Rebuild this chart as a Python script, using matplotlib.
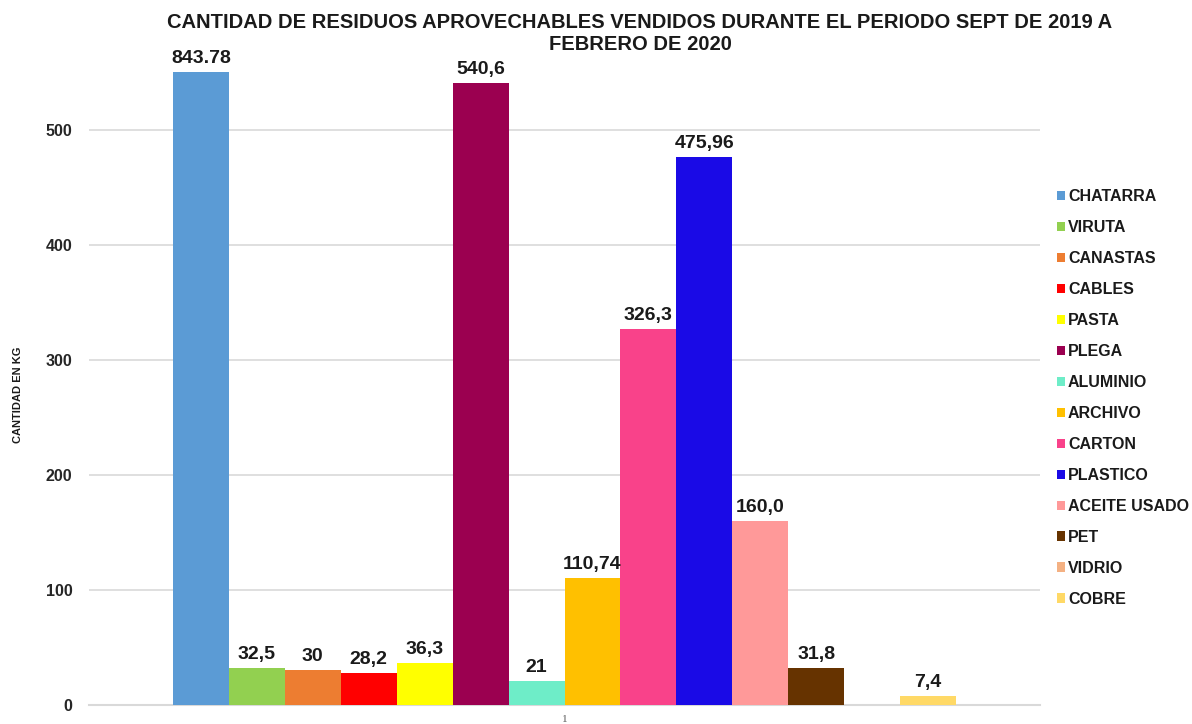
import matplotlib
matplotlib.use("Agg")
import matplotlib.pyplot as plt
from matplotlib.patches import Patch

# Residuos aprovechables vendidos (kg), sept 2019 - feb 2020
categorias = ["CHATARRA", "VIRUTA", "CANASTAS", "CABLES", "PASTA", "PLEGA",
              "ALUMINIO", "ARCHIVO", "CARTON", "PLASTICO", "ACEITE USADO",
              "PET", "VIDRIO", "COBRE"]
valores = [843.78, 32.5, 30, 28.2, 36.3, 540.6, 21, 110.74, 326.3, 475.96,
           160.0, 31.8, 0, 7.4]
etiquetas = ["843.78", "32,5", "30", "28,2", "36,3", "540,6", "21", "110,74",
             "326,3", "475,96", "160,0", "31,8", "", "7,4"]
colores = ["#5B9BD5", "#92D050", "#ED7D31", "#FF0000", "#FFFF00", "#9B0050",
           "#6EEDC8", "#FFC000", "#F9428A", "#1A0AE6", "#FF9999", "#663300",
           "#F4B183", "#FFD966"]
y_ticks = [0, 100, 200, 300, 400, 500]
y_max = 550
titulo = ["CANTIDAD DE RESIDUOS APROVECHABLES VENDIDOS DURANTE EL PERIODO SEPT DE 2019 A",
          "FEBRERO DE 2020"]

sans = ["Liberation Sans", "DejaVu Sans"]

fig = plt.figure(figsize=(11.92, 7.24), dpi=100)
ax = fig.add_axes([89 / 1192, 1 - 705 / 724, (1040 - 89) / 1192, (705 - 72) / 724])

xs = list(range(len(categorias)))
ax.bar(xs, valores, width=1.0, color=colores, zorder=3)

for x, v, t in zip(xs, valores, etiquetas):
    if not t:
        continue
    ax.annotate(t, (x, min(v, y_max)), xytext=(0, 6.5), textcoords="offset points",
                ha="center", va="baseline", fontsize=14, fontweight="bold",
                family=sans, color="#1a1a1a", annotation_clip=False)

ax.set_xlim(-2, 15)
ax.set_ylim(0, y_max)
ax.set_yticks(y_ticks)
ax.set_yticklabels([str(t) for t in y_ticks], fontsize=11.5, fontweight="bold",
                   family=sans, color="#262626")
ax.set_xticks([6.5])
ax.set_xticklabels(["1"], fontsize=8, family=["Liberation Serif"], color="#595959")
ax.tick_params(axis="both", length=0)
ax.tick_params(axis="y", pad=12)
ax.tick_params(axis="x", pad=7)

ax.grid(axis="y", color="#d9d9d9", linewidth=1.2, zorder=0)
for s in ["top", "right", "left"]:
    ax.spines[s].set_visible(False)
ax.spines["bottom"].set_color("#d9d9d9")
ax.spines["bottom"].set_linewidth(1.5)

# Title drawn as two centred lines
for linea, y_px in zip(titulo, [22, 45]):
    fig.text(640 / 1192, 1 - y_px / 724, linea, ha="center", va="center",
             fontsize=14.5, fontweight="bold", family=sans, color="#1a1a1a")

fig.text(18 / 1192, 1 - 395 / 724, "CANTIDAD EN KG", rotation=90, ha="center",
         va="center", fontsize=8, fontweight="bold", family=sans, color="#1a1a1a")

handles = [Patch(facecolor=c, edgecolor="none") for c in colores]
leg = fig.legend(handles, categorias, loc="upper left",
                 bbox_to_anchor=(1057 / 1192, 1 - 189 / 724),
                 frameon=False, prop={"family": sans, "weight": "bold", "size": 11.5},
                 handlelength=0.5, handleheight=0.5, handletextpad=0.19,
                 labelspacing=1.0, borderaxespad=0, borderpad=0)
for t in leg.get_texts():
    t.set_color("#1a1a1a")

fig.savefig("out.png", dpi=100)
